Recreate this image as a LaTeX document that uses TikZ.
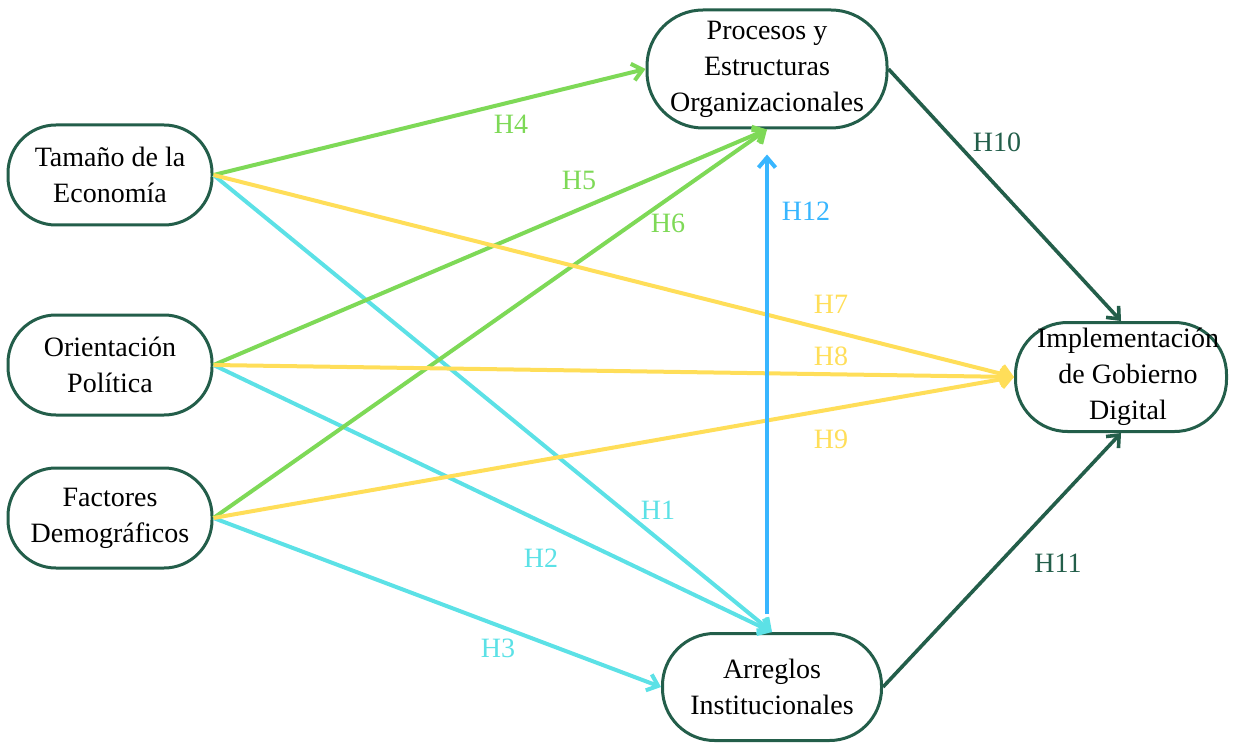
\documentclass[tikz,border=0pt]{standalone}
\usepackage{fontspec}
\setmainfont{Liberation Serif}
\usetikzlibrary{arrows.meta}
\definecolor{hverde}{HTML}{7ED957}
\definecolor{hamarillo}{HTML}{FFDE59}
\definecolor{hcian}{HTML}{5CE1E6}
\definecolor{hazul}{HTML}{38B6FF}
\definecolor{hoscuro}{HTML}{235E4A}

\begin{document}
\begin{tikzpicture}[x=0.5pt, y=-0.5pt,
        every node/.style={font=\fontsize{14}{18}\selectfont},
        caja/.style={draw=hoscuro, line width=1.5pt, rounded corners=24pt, align=center, inner sep=0pt,
            minimum width=102pt, minimum height=50pt},
        flecha/.style={line width=2pt, -{Straight Barb[length=5pt, width=8.5pt]}}]
    \useasboundingbox (0,0) rectangle (1236,743);

    % factores de la izquierda
    \node[caja] (tam) at (110,175) {Tamaño de la\\Economía};
    \node[caja] (ori) at (110,365) {Orientación\\Política};
    \node[caja] (fac) at (110,518) {Factores\\Demográficos};

    % mediadores y resultado
    \node[caja, minimum width=120pt, minimum height=59pt, rounded corners=28pt] (proc) at (767,69)
        {Procesos y\\Estructuras\\Organizacionales};
    \node[caja, minimum width=109.5pt, minimum height=53.5pt, rounded corners=26pt] (arr) at (772,687)
        {Arreglos\\Institucionales};
    \node[caja, minimum width=105.5pt, minimum height=54.5pt, rounded corners=26pt] (imp) at (1121,377)
        {\hspace*{7pt}Implementación\\\hspace*{7pt}de Gobierno\\\hspace*{7pt}Digital};

    % H1 - H3
    \draw[flecha, hcian] (tam.east) -- (arr.north);
    \draw[flecha, hcian] (ori.east) -- (arr.north);
    \draw[flecha, hcian] (fac.east) -- (arr.west);
    \node[text=hcian] (h1) at (658,510) {H1};
    \node[text=hcian] (h2) at (541,558) {H2};
    \node[text=hcian] (h3) at (498,648) {H3};

    % H4 - H6
    \draw[flecha, hverde] (tam.east) -- (proc.west);
    \draw[flecha, hverde] (ori.east) -- (proc.south);
    \draw[flecha, hverde] (fac.east) -- (proc.south);
    \node[text=hverde] (h4) at (511,124) {H4};
    \node[text=hverde] (h5) at (579,180) {H5};
    \node[text=hverde] (h6) at (668,223) {H6};

    % H7 - H9
    \foreach \n/\h/\y in {tam/7/304, ori/8/356, fac/9/439}{
        \draw[flecha, hamarillo] (\n.east) -- (imp.west);
        \node[text=hamarillo] (h\h) at (831,\y) {H\h};
    }

    % H10 - H12
    \draw[flecha, hoscuro, line width=1.8pt] (proc.east) -- (imp.north);
    \draw[flecha, hoscuro, line width=1.8pt] (arr.east) -- (imp.south);
    \draw[flecha, hazul] ([yshift=9pt]arr.north -| proc.south) -- ([yshift=-12.5pt]proc.south);
    \node[text=hoscuro] (h10) at (997,142) {H10};
    \node[text=hoscuro] (h11) at (1058,563) {H11};
    \node[text=hazul] (h12) at (806,211) {H12};
\end{tikzpicture}
\end{document}
